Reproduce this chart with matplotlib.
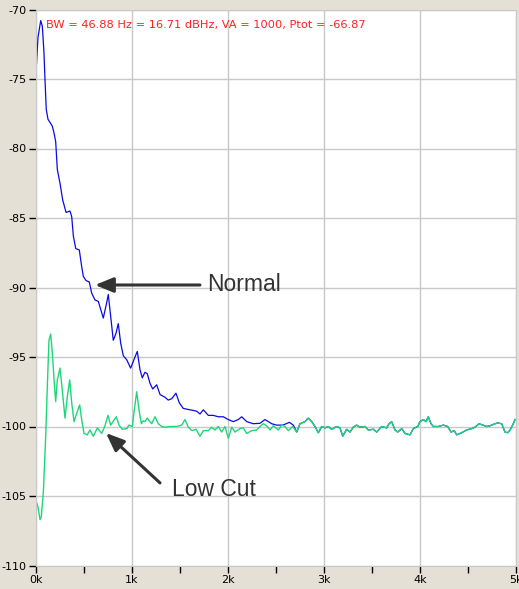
import numpy as np
import matplotlib.pyplot as plt
from matplotlib.ticker import MultipleLocator, FuncFormatter

# Espectro "Normal" (azul), frecuencias en Hz y nivel en dB
normal_f = [0, 21, 49, 66, 83, 94, 107, 125, 153, 170, 188, 205, 222, 250, 278,
            313, 354, 372, 389, 414, 451, 476, 493, 521, 555, 580, 615, 649, 701,
            736, 753, 778, 805, 833, 857, 882, 909, 945, 986, 1031, 1055, 1083,
            1107, 1135, 1159, 1188, 1216, 1257, 1292, 1344, 1378, 1414, 1458,
            1493, 1534, 1604, 1674, 1708, 1743, 1795, 1847, 1899, 1951, 2003,
            2055, 2107, 2143, 2195, 2264, 2333, 2385, 2455, 2507, 2573, 2639, 2680]
normal_db = [-74.5, -72.0, -70.8, -71.2, -73.1, -75.1, -77.2, -77.9, -78.2, -78.4,
             -78.9, -79.5, -81.5, -82.5, -83.7, -84.6, -84.5, -84.9, -86.3, -87.2,
             -87.3, -88.5, -89.2, -89.5, -89.6, -90.4, -90.9, -91.0, -92.2, -91.1,
             -90.5, -92.1, -93.8, -93.3, -92.6, -94.0, -94.9, -95.2, -95.8, -95.0,
             -94.6, -95.9, -96.5, -96.1, -96.2, -96.9, -97.3, -97.0, -97.7, -97.9,
             -98.1, -98.0, -97.6, -98.3, -98.7, -98.8, -98.9, -99.1, -98.8, -99.2,
             -99.2, -99.3, -99.3, -99.5, -99.65, -99.5, -99.3, -99.65, -99.8, -99.77,
             -99.5, -99.8, -99.9, -99.9, -99.7, -99.9]

# Espectro "Low Cut" (verde)
lowcut_f = [7, 21, 42, 55, 76, 101, 118, 135, 153, 170, 188, 205, 222, 250, 274,
            302, 326, 351, 372, 396, 424, 455, 476, 500, 534, 562, 597, 639, 684,
            716, 750, 778, 807, 836, 865, 899, 945, 969, 1003, 1028, 1049, 1073,
            1097, 1115, 1135, 1159, 1205, 1240, 1274, 1309, 1344, 1396, 1466, 1518,
            1552, 1587, 1625, 1667, 1708, 1743, 1795, 1830, 1865, 1899, 1934, 1969,
            2003, 2039, 2073, 2125, 2159, 2195, 2247, 2299, 2333, 2368, 2403, 2438,
            2472, 2524, 2559, 2594, 2628, 2674, 2716, 2750, 2802, 2836, 2872, 2906,
            2941, 2976, 3010, 3045, 3080, 3132, 3167, 3195, 3236, 3271, 3305, 3340,
            3375, 3427, 3461, 3514, 3549, 3601, 3653, 3677, 3705, 3740, 3768, 3810,
            3844, 3896, 3930, 3976, 4000, 4034, 4063, 4086, 4115, 4139, 4191, 4243,
            4288, 4323, 4357, 4382, 4434, 4486, 4538, 4573, 4615, 4656, 4695, 4729,
            4781, 4809, 4851, 4885, 4913, 4938, 4972, 4990]
lowcut_db = [-105.5, -105.8, -106.7, -106.5, -104.8, -100.7, -97.1, -93.8, -93.35,
             -94.7, -96.65, -98.2, -96.65, -95.8, -97.4, -99.4, -97.85, -96.65, -98.3,
             -99.65, -99.05, -98.45, -99.5, -100.5, -100.6, -100.25, -100.7, -100.1,
             -100.5, -100.0, -99.2, -99.9, -99.6, -99.3, -99.9, -100.2, -100.15, -99.9,
             -100.0, -98.6, -97.5, -98.8, -99.8, -99.6, -99.65, -99.4, -99.8, -99.3,
             -99.8, -100.0, -100.05, -100.0, -100.0, -99.9, -99.5, -100.05, -100.3,
             -100.2, -100.7, -100.3, -100.3, -100.05, -100.25, -100.0, -100.4, -100.0,
             -100.85, -100.05, -100.4, -100.15, -100.1, -100.5, -100.3, -100.25, -100.0,
             -99.8, -99.95, -100.25, -99.95, -100.25, -99.9, -100.0, -100.3, -100.0,
             -100.4, -99.8, -99.65, -99.4, -99.65, -100.0, -100.45, -100.0, -100.1,
             -100.0, -100.2, -100.0, -100.1, -100.7, -100.2, -100.4, -100.05, -99.9,
             -100.05, -100.0, -100.25, -100.2, -100.4, -100.0, -100.1, -99.8, -99.65,
             -100.25, -100.4, -100.15, -100.5, -100.6, -100.15, -100.0, -99.65, -99.5,
             -99.65, -99.3, -99.8, -100.0, -100.0, -99.9, -100.0, -100.4, -100.3,
             -100.6, -100.45, -100.25, -100.15, -100.05, -99.8, -99.9, -100.0, -99.95,
             -99.8, -99.75, -99.8, -100.4, -100.45, -100.25, -99.8, -99.5]

# por encima de ~2.7k las dos curvas coinciden (la verde tapa a la azul)
cola = lowcut_f.index(2716)
normal_f = normal_f + lowcut_f[cola:]
normal_db = normal_db + lowcut_db[cola:]

titulo = "BW = 46.88 Hz = 16.71 dBHz, VA = 1000, Ptot = -66.87"

fondo = '#e4e0d5'
fig = plt.figure(figsize=(5.19, 5.89), dpi=100, facecolor=fondo)
ax = fig.add_axes([36/519, 23.5/589, 480/519, 556/589])
ax.set_facecolor('white')

ax.plot(normal_f, normal_db, color='#0a0ae6', lw=0.9)
ax.plot(lowcut_f, lowcut_db, color='#1ed67a', lw=1.0)

ax.set_xlim(0, 5000)
ax.set_ylim(-110, -70)
ax.xaxis.set_major_locator(MultipleLocator(1000))
ax.xaxis.set_minor_locator(MultipleLocator(500))
ax.yaxis.set_major_locator(MultipleLocator(5))
ax.xaxis.set_major_formatter(FuncFormatter(lambda v, p: '%dk' % round(v / 1000)))
ax.yaxis.set_major_formatter(FuncFormatter(lambda v, p: '%d' % v))
ax.grid(True, which='major', color='#c8c8c8', lw=1)
ax.tick_params(which='both', direction='out', length=5, width=1, colors='black',
               labelsize=8, pad=2)
ax.tick_params(which='minor', length=5)
for s in ax.spines.values():
    s.set_color('#c8c8c8')

ax.text(0.021, 0.982, titulo, transform=ax.transAxes, color='#ff2020',
        fontsize=8.2, va='top', ha='left')

flecha = dict(arrowstyle='-|>,head_length=1.1,head_width=0.45', color='#333333',
              lw=2.2, shrinkA=0, shrinkB=0)
ax.annotate('', xy=(615, -89.82), xytext=(1708, -89.82), arrowprops=flecha)
ax.text(1781, -89.82, 'Normal', fontsize=16.5, family='Liberation Sans',
        color='#333333', va='center', ha='left')
ax.annotate('', xy=(729, -100.47), xytext=(1292, -104.06), arrowprops=flecha)
ax.text(1417, -104.5, 'Low Cut', fontsize=16.5, family='Liberation Sans',
        color='#333333', va='center', ha='left')

plt.savefig('out.png', dpi=100, facecolor=fondo)
